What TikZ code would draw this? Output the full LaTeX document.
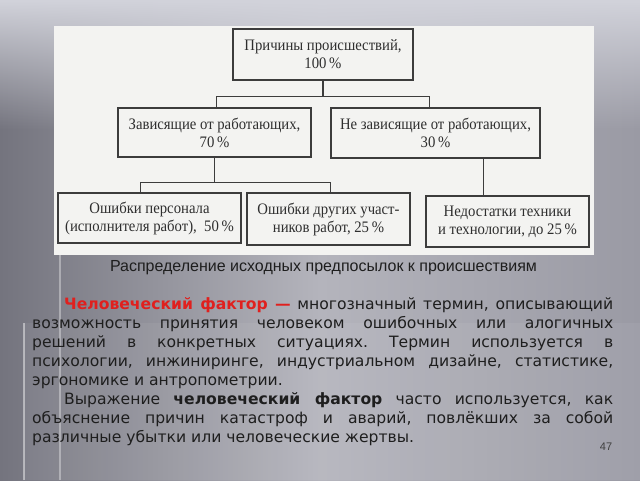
\documentclass[tikz,border=0pt]{standalone}
\usepackage{fontspec}
\setmainfont{DejaVu Sans}
\newfontfamily\scanfont[FakeStretch=0.92]{Liberation Serif}
\newfontfamily\capfont{Liberation Sans}
\usetikzlibrary{fadings,calc}
\definecolor{bgdark}{HTML}{74747E}
\definecolor{bglight}{HTML}{B4B4BC}
\definecolor{bgright}{HTML}{9A9AA4}
\definecolor{bgtop}{HTML}{D2D3DB}
\definecolor{paper}{HTML}{F3F3F1}
\definecolor{boxline}{HTML}{3C3C3C}
\definecolor{scanink}{HTML}{2E2E2E}
\definecolor{textink}{HTML}{1E1E1E}
\definecolor{redfact}{HTML}{E0201E}
\tikzfading[name=fadedown, top color=transparent!0, bottom color=transparent!100]
\begin{document}
\begin{tikzpicture}[x=1pt,y=-1pt,
  box/.style={draw=boxline,line width=1.4pt,inner sep=0pt,align=center,
    text=scanink,font=\scanfont\fontsize{16}{18}\selectfont},
  link/.style={draw=boxline,line width=1.4pt}]
\useasboundingbox (0,0) rectangle (640,480);
% background of the slide
\shade[left color=bgdark,right color=bgright,middle color=bglight] (0,0) rectangle (640,480);
\fill[bgtop,path fading=fadedown] (0,0) rectangle (640,130);
\fill[white,opacity=0.06] (24,323) rectangle (640,480);
\draw[white,opacity=0.45,line width=1.5pt] (24,323) -- (24,480);
\draw[white,opacity=0.35,line width=1.5pt] (60,255) -- (60,480);
% the scanned picture
\fill[paper] (54,26) rectangle (594,255);
\node[box,minimum width=180,minimum height=51] (top) at (323,54.5) {Причины происшествий,\\100\,\%};
\node[box,minimum width=193,minimum height=49] (midL) at (214.5,132.5) {Зависящие от работающих,\\70\,\%};
\node[box,minimum width=209,minimum height=50] (midR) at (435.5,133) {Не зависящие от работающих,\\30\,\%};
\node[box,minimum width=183,minimum height=50] (botL) at (149.5,218) {Ошибки персонала\\(исполнителя работ),~~50\,\%};
\node[box,minimum width=163,minimum height=52] (botM) at (328.5,219) {Ошибки других участ-\\ников работ,~25\,\%};
\node[box,minimum width=163,minimum height=51] (botR) at (507.5,221.5) {Недостатки техники\\и технологии, до 25\,\%};
\draw[link] (top.south) -- ++(0,16) coordinate (j1);
\draw[link] (j1) -| ([xshift=2pt]midL.north);
\draw[link] (j1) -| ([xshift=-6pt]midR.north);
\draw[link] (midL.south) -- ++(0,25) coordinate (j2);
\draw[link] (j2) -| ([xshift=-9pt]botL.north);
\draw[link] (j2) -| ([xshift=2pt]botM.north);
\draw[link] ([xshift=48pt]midR.south) -- ([xshift=48pt]midR.south |- botR.north);
% caption and text
\node[text=textink,font=\capfont\fontsize{16}{18}\selectfont] (cap) at (323.5,268) {Распределение исходных предпосылок к происшествиям};
\node[anchor=north west,inner sep=0pt,text width=581pt,align=justify,text=textink,
  font=\fontsize{15.6}{19.1}\selectfont] (body) at (32,297) {\tolerance=10000\hbadness=10000\frenchspacing
  \hspace*{32pt}\textcolor{redfact}{\textbf{Человеческий фактор —}} многозначный термин, описывающий\linebreak
  возможность принятия человеком ошибочных или алогичных\linebreak
  решений в конкретных ситуациях. Термин используется в\linebreak
  психологии, инжиниринге, индустриальном дизайне, статистике,\linebreak
  эргономике и антропометрии.\par
  \hspace*{32pt}Выражение \textbf{человеческий фактор} часто используется, как\linebreak
  объяснение причин катастроф и аварий, повлёкших за собой\linebreak
  различные убытки или человеческие жертвы.};
\node[text=textink!85,font=\capfont\fontsize{11}{13}\selectfont] (page) at (606,447) {47};
\end{tikzpicture}
\end{document}
